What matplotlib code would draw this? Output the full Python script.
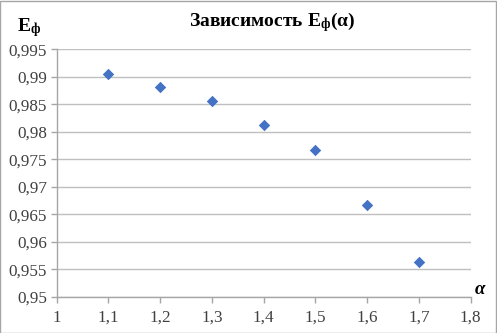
import matplotlib
matplotlib.use("Agg")
import matplotlib.pyplot as plt
from matplotlib.ticker import FuncFormatter
from matplotlib.patches import Rectangle

alpha = [1.1, 1.2, 1.3, 1.4, 1.5, 1.6, 1.7]
e_phi = [0.9906, 0.9882, 0.9856, 0.9813, 0.9767, 0.9668, 0.9563]

x_ticks = [1.0, 1.1, 1.2, 1.3, 1.4, 1.5, 1.6, 1.7, 1.8]
y_ticks = [0.95, 0.955, 0.96, 0.965, 0.97, 0.975, 0.98, 0.985, 0.99, 0.995]

plt.rcParams['font.family'] = ['Liberation Serif', 'DejaVu Serif']
plt.rcParams['mathtext.fontset'] = 'custom'
plt.rcParams['mathtext.rm'] = 'Liberation Serif'
plt.rcParams['mathtext.bf'] = 'Liberation Serif:bold'
plt.rcParams['mathtext.it'] = 'Liberation Serif:italic'

fig = plt.figure(figsize=(4.97, 3.33), dpi=100)
ax = fig.add_axes([56.7/497, 36/333, 414/497, 247.7/333])

ax.scatter(alpha, e_phi, marker='D', s=34, color='#4472C4', zorder=3, linewidths=0)

ax.set_xlim(1.0, 1.8)
ax.set_ylim(0.95, 0.995)
ax.set_xticks(x_ticks)
ax.set_yticks(y_ticks)

def fmt(v, pos):
    s = ('%.3f' % v).rstrip('0').rstrip('.')
    return s.replace('.', ',')

ax.xaxis.set_major_formatter(FuncFormatter(fmt))
ax.yaxis.set_major_formatter(FuncFormatter(fmt))

ax.grid(axis='y', color='#BFBFBF', linewidth=1.0)
ax.set_axisbelow(True)
for s in ['top', 'right']:
    ax.spines[s].set_visible(False)
for s in ['left', 'bottom']:
    ax.spines[s].set_color('#A6A6A6')
    ax.spines[s].set_linewidth(1.0)
ax.tick_params(axis='both', colors='#A6A6A6', labelcolor='#404040',
               labelsize=12.3, length=4, width=1.0, direction='out')
ax.tick_params(axis='x', pad=5)
ax.tick_params(axis='y', pad=3)

fig.text(0.548, 0.935, r'Зависимость E$_{\mathbf{ф}}$(α)', ha='center', va='center',
         fontsize=14, fontweight='bold', color='black')
fig.text(0.034, 0.918, r'E$_{\mathbf{ф}}$', ha='left', va='center',
         fontsize=14, fontweight='bold', color='black')
fig.text(0.956, 0.106, 'α', ha='left', va='bottom', fontsize=13.5,
         fontweight='bold', fontstyle='italic', color='black')

fig.patches.append(Rectangle((0.001, 0.0015), 0.997, 0.996, transform=fig.transFigure,
                             fill=False, edgecolor='#A6A6A6', linewidth=1.0))

fig.savefig('out.png', dpi=100)
